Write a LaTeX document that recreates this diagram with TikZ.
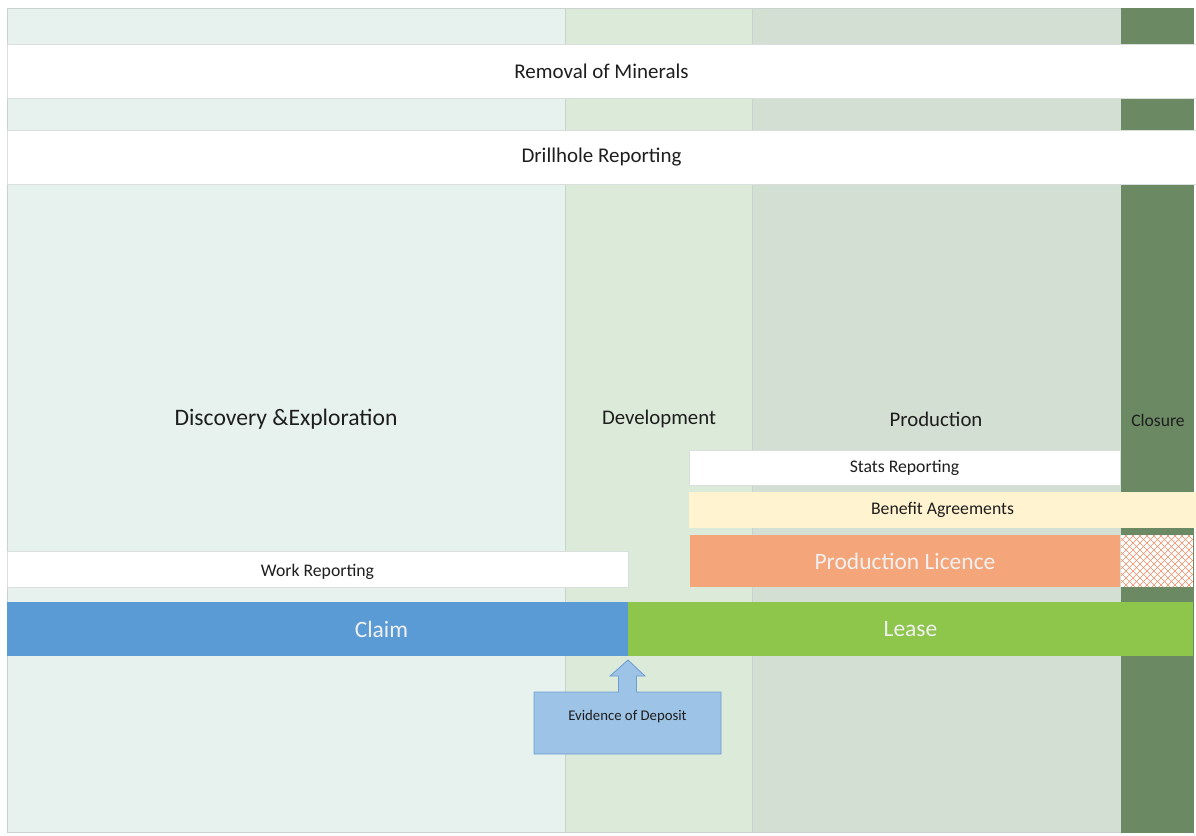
\documentclass[tikz,border=0pt]{standalone}
\usepackage{fontspec}
\setmainfont{Carlito}
\usetikzlibrary{calc}
\pgfdeclarelayer{cols}
\pgfdeclarelayer{arrowlayer}
\pgfsetlayers{cols,arrowlayer,main}

\definecolor{discol}{HTML}{E7F2EF}
\definecolor{devcol}{HTML}{DCEAD9}
\definecolor{prodcol}{HTML}{D3DFD2}
\definecolor{closecol}{HTML}{6B8963}
\definecolor{edgecol}{HTML}{C9D2CE}
\definecolor{claimcol}{HTML}{5B9BD5}
\definecolor{leasecol}{HTML}{8DC64B}
\definecolor{licencecol}{HTML}{F4A67A}
\definecolor{benefitcol}{HTML}{FFF3D0}
\definecolor{evidcol}{HTML}{9DC3E6}
\definecolor{evidedge}{HTML}{6E9DD2}
\definecolor{hatchcol}{HTML}{F28C64}
\definecolor{txt}{HTML}{1E1E1E}

% box from corner (#2,#3) to corner (#4,#5), in pixel units
\newcommand\pxbox[7]{%
  \pgfmathsetmacro\bcx{(#2+#4)/2}\pgfmathsetmacro\bcy{(#3+#5)/2}%
  \pgfmathsetmacro\bw{(#4-#2)*0.25}\pgfmathsetmacro\bh{(#5-#3)*0.25}%
  \node[#6, minimum width=\bw mm, minimum height=\bh mm] (#1) at (\bcx,\bcy) {#7};}

\tikzset{
  cell/.style={rectangle, inner sep=0pt, outer sep=0pt},
  column/.style={cell, draw=edgecol, line width=0.5pt},
  band/.style={cell, fill=white, draw=edgecol!70, line width=0.4pt, text=txt},
  phase/.style={text=txt, font=\fontsize{16.8}{18}\selectfont},
  midphase/.style={text=txt, font=\fontsize{14.8}{16}\selectfont},
  bigtext/.style={font=\fontsize{14.9}{16}\selectfont},
  smalltext/.style={font=\fontsize{12.6}{14}\selectfont},
  barstyle/.style={cell, text=white!94!black, font=\fontsize{16.7}{18}\selectfont},
}

\begin{document}
\begin{tikzpicture}[x=0.25mm,y=-0.25mm]
\useasboundingbox (0,0) rectangle (1196,835);

% phase columns
\begin{pgfonlayer}{cols}
\fill[white] (0,0) rectangle (1196,835);
\pxbox{discovery}{7}{8}{565}{832}{column, fill=discol}{}
\pxbox{development}{565}{8}{752}{832}{column, fill=devcol}{}
\pxbox{production}{752}{8}{1121}{832}{column, fill=prodcol}{}
\pxbox{closure}{1121}{8}{1193}{832}{column, fill=closecol, draw=closecol}{}
\end{pgfonlayer}

% phase titles
\node[phase] (tdisc) at (286,419) {Discovery \&Exploration};
\node[midphase] (tdev) at (659,419) {Development};
\node[midphase] (tprod) at (936,419) {Production};
\node[text=txt, font=\fontsize{12.5}{14}\selectfont] (tclose) at (1158,420) {Closure};

% full-width reporting bands
\pxbox{removal}{7}{44}{1196}{98}{band, bigtext}{Removal of Minerals}
\pxbox{drillhole}{7}{130}{1196}{184}{band, bigtext}{Drillhole Reporting}

% production-phase bands
\pxbox{stats}{689}{450}{1120}{485}{band, smalltext}{Stats Reporting}
\pxbox{benefit}{689}{492}{1196}{527}{band, smalltext, fill=benefitcol, draw=benefitcol}{Benefit Agreements}
\pxbox{licence}{690}{535}{1120}{587}{barstyle, fill=licencecol}{Production Licence}
\pxbox{hatch}{1121}{535}{1193}{587}{cell, fill=white}{}
\begin{scope}
  \clip (hatch.north west) rectangle (hatch.south east);
  \foreach \k in {-60,-53,...,80}{
    \draw[hatchcol, line width=0.35pt] ($(hatch.south west)+(\k,0)$) -- ++(60,-60);
    \draw[hatchcol, line width=0.35pt] ($(hatch.south west)+(\k,-60)$) -- ++(60,60);
  }
\end{scope}

% work reporting and tenure bars
\pxbox{work}{7}{551}{628}{587}{band, label={[smalltext, text=txt, yshift=-0.7mm]center:Work Reporting}}{}
\pxbox{claim}{7}{602}{628}{656}{cell, fill=claimcol, label={[barstyle, xshift=16mm]center:Claim}}{}
\pxbox{lease}{628}{602}{1193}{656}{barstyle, fill=leasecol}{Lease}

% evidence of deposit callout pointing at the claim/lease change-over
\pxbox{evid}{534}{692}{721}{754}{cell, label={[text=txt, font=\fontsize{10.5}{12}\selectfont, yshift=1.6mm]center:Evidence of Deposit}}{}
\coordinate (tip) at ($(claim.south east)+(0,4)$);
\begin{pgfonlayer}{arrowlayer}
\draw[fill=evidcol, draw=evidedge, line width=0.6pt, line join=miter]
  (evid.south west) -- (evid.north west)
  -- ($(evid.north)+(-9,0)$) -- ++(0,-16) -- ++(-8.5,0)
  -- (tip)
  -- ($(evid.north)+(17.5,-16)$) -- ++(-8.5,0) -- ++(0,16)
  -- (evid.north east) -- (evid.south east) -- cycle;
\end{pgfonlayer}
\end{tikzpicture}
\end{document}
